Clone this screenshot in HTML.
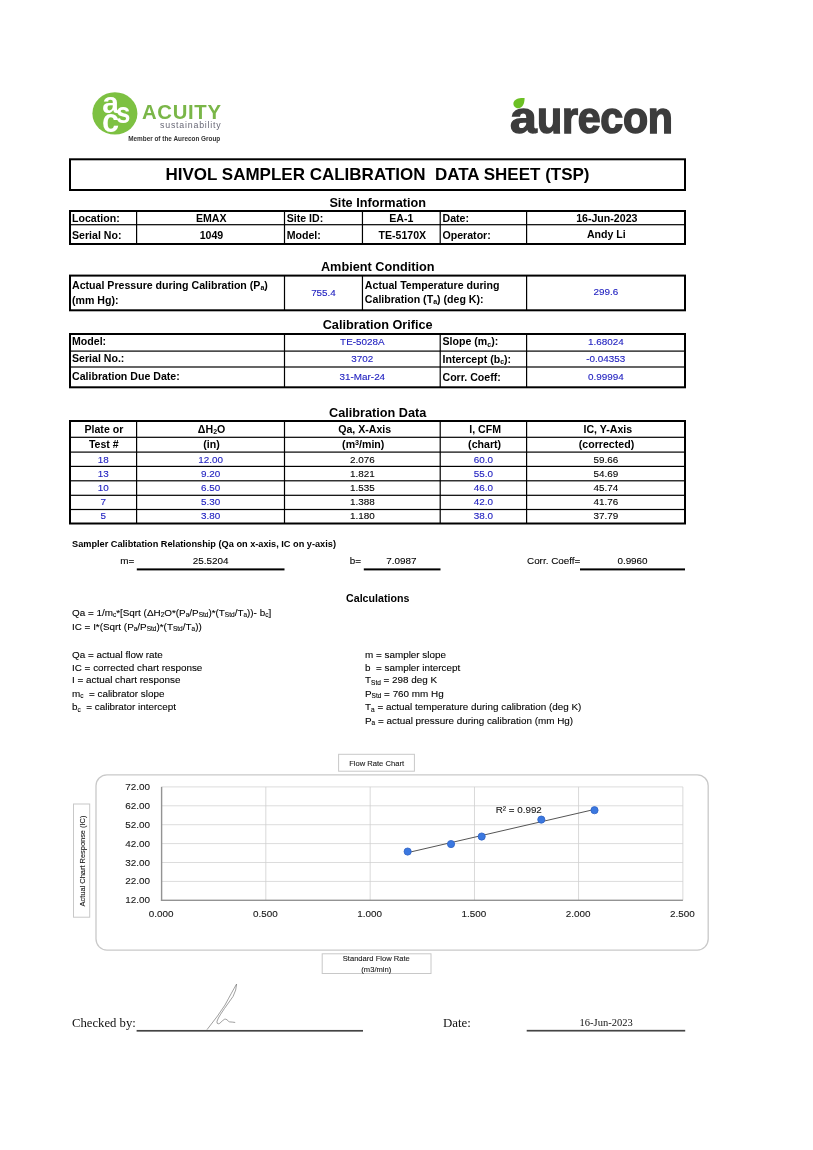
<!DOCTYPE html>
<html lang="en">
<head>
<meta charset="utf-8">
<title>HIVOL Sampler Calibration Data Sheet (TSP)</title>
<style>
html,body{margin:0;padding:0;background:#fff;}
body{width:813px;height:1150px;position:relative;overflow:hidden;font-family:"Liberation Sans",sans-serif;color:#000;}
.t{position:absolute;white-space:nowrap;line-height:1;}
.r{position:absolute;}
.b{font-weight:bold;}
.bl{color:#2222c0;-webkit-text-stroke:0.12px #2222c0;}
.cf{-webkit-text-stroke:0.1px #000;}
.se{font-family:"Liberation Serif",serif;}
sub{font-size:66%;vertical-align:baseline;position:relative;top:0.22em;line-height:0;}
sup{font-size:68%;vertical-align:baseline;position:relative;top:-0.48em;line-height:0;}
svg{position:absolute;overflow:visible;}
</style>
</head>
<body>
<svg width="813" height="1150" viewBox="0 0 813 1150" style="left:0;top:0">
<rect x="70.00" y="159.30" width="615.00" height="30.70" fill="none" stroke="#000" stroke-width="2"/>
<rect x="70.00" y="211.00" width="615.00" height="33.00" fill="none" stroke="#000" stroke-width="2"/>
<rect x="70.00" y="224.10" width="615.00" height="1.20" fill="#000"/>
<rect x="136.00" y="211.00" width="1.20" height="33.00" fill="#000"/>
<rect x="283.90" y="211.00" width="1.20" height="33.00" fill="#000"/>
<rect x="361.85" y="211.00" width="1.20" height="33.00" fill="#000"/>
<rect x="439.60" y="211.00" width="1.20" height="33.00" fill="#000"/>
<rect x="526.00" y="211.00" width="1.20" height="33.00" fill="#000"/>
<rect x="70.00" y="275.60" width="615.00" height="34.70" fill="none" stroke="#000" stroke-width="2"/>
<rect x="283.90" y="275.60" width="1.20" height="34.70" fill="#000"/>
<rect x="361.85" y="275.60" width="1.20" height="34.70" fill="#000"/>
<rect x="526.00" y="275.60" width="1.20" height="34.70" fill="#000"/>
<rect x="70.00" y="334.00" width="615.00" height="53.30" fill="none" stroke="#000" stroke-width="2"/>
<rect x="70.00" y="350.50" width="615.00" height="1.20" fill="#000"/>
<rect x="70.00" y="366.40" width="615.00" height="1.20" fill="#000"/>
<rect x="283.90" y="334.00" width="1.20" height="53.30" fill="#000"/>
<rect x="439.60" y="334.00" width="1.20" height="53.30" fill="#000"/>
<rect x="526.00" y="334.00" width="1.20" height="53.30" fill="#000"/>
<rect x="70.00" y="421.00" width="615.00" height="102.50" fill="none" stroke="#000" stroke-width="2"/>
<rect x="70.00" y="436.70" width="615.00" height="1.20" fill="#000"/>
<rect x="70.00" y="451.50" width="615.00" height="1.20" fill="#000"/>
<rect x="70.00" y="465.80" width="615.00" height="1.20" fill="#000"/>
<rect x="70.00" y="480.20" width="615.00" height="1.20" fill="#000"/>
<rect x="70.00" y="494.70" width="615.00" height="1.20" fill="#000"/>
<rect x="70.00" y="508.90" width="615.00" height="1.20" fill="#000"/>
<rect x="136.00" y="421.00" width="1.20" height="102.50" fill="#000"/>
<rect x="283.90" y="421.00" width="1.20" height="102.50" fill="#000"/>
<rect x="439.60" y="421.00" width="1.20" height="102.50" fill="#000"/>
<rect x="526.00" y="421.00" width="1.20" height="102.50" fill="#000"/>
<rect x="136.80" y="568.40" width="147.70" height="2.00" fill="#000"/>
<rect x="363.80" y="568.40" width="76.70" height="2.00" fill="#000"/>
<rect x="580.00" y="568.40" width="105.00" height="2.00" fill="#000"/>
<rect x="136.60" y="1029.95" width="226.40" height="1.70" fill="#444"/>
<rect x="526.70" y="1029.85" width="158.50" height="1.70" fill="#444"/>
<path d="M207.2 1029.4 L217.5 1016 L225 1005 Q232 992 236.6 984 Q236.5 990 233 996.5 L224.4 1008.6 Q220 1015 218.4 1018 Q216.3 1022 217.1 1023.2 Q218.2 1024.3 219.8 1023.3 Q222.5 1020.5 224.4 1019.3 Q225.8 1018.8 227 1019.8 Q228.5 1021.5 229.6 1021.9 Q232 1022 234.8 1022.4" fill="none" stroke="#777" stroke-width="0.7" stroke-linecap="round" stroke-linejoin="round"/>
<rect x="96" y="774.8" width="612.2" height="175.3" rx="11" ry="11" fill="#fff" stroke="#c9c9c9" stroke-width="1.3"/>
<rect x="161.60" y="880.90" width="521.30" height="1.00" fill="#dcdcdc"/>
<rect x="161.60" y="862.00" width="521.30" height="1.00" fill="#dcdcdc"/>
<rect x="161.60" y="843.10" width="521.30" height="1.00" fill="#dcdcdc"/>
<rect x="161.60" y="824.20" width="521.30" height="1.00" fill="#dcdcdc"/>
<rect x="161.60" y="805.30" width="521.30" height="1.00" fill="#dcdcdc"/>
<rect x="161.60" y="786.40" width="521.30" height="1.00" fill="#dcdcdc"/>
<rect x="265.46" y="786.90" width="0.80" height="113.40" fill="#d0d0d0"/>
<rect x="369.72" y="786.90" width="0.80" height="113.40" fill="#d0d0d0"/>
<rect x="473.98" y="786.90" width="0.80" height="113.40" fill="#d0d0d0"/>
<rect x="578.24" y="786.90" width="0.80" height="113.40" fill="#d0d0d0"/>
<rect x="682.50" y="786.90" width="0.80" height="113.40" fill="#d0d0d0"/>
<rect x="160.90" y="786.90" width="1.40" height="114.10" fill="#939393"/>
<rect x="160.90" y="899.60" width="522.00" height="1.40" fill="#939393"/>
<line x1="407.65" y1="852.65" x2="594.49" y2="809.43" stroke="#555" stroke-width="1"/>
<circle cx="407.65" cy="851.56" r="3.6" fill="#3b78e0" stroke="#2f62c4" stroke-width="0.8"/>
<circle cx="451.03" cy="844.05" r="3.6" fill="#3b78e0" stroke="#2f62c4" stroke-width="0.8"/>
<circle cx="481.68" cy="836.53" r="3.6" fill="#3b78e0" stroke="#2f62c4" stroke-width="0.8"/>
<circle cx="541.31" cy="819.62" r="3.6" fill="#3b78e0" stroke="#2f62c4" stroke-width="0.8"/>
<circle cx="594.49" cy="810.22" r="3.6" fill="#3b78e0" stroke="#2f62c4" stroke-width="0.8"/>
<rect x="338.6" y="754.3" width="75.8" height="16.9" fill="#fff" stroke="#c8c8c8" stroke-width="1"/>
<rect x="322.2" y="953.8" width="108.8" height="19.7" fill="#fff" stroke="#c8c8c8" stroke-width="1"/>
<rect x="73.5" y="804" width="16.2" height="113.2" fill="#fff" stroke="#c8c8c8" stroke-width="1"/>
<ellipse cx="114.9" cy="113.4" rx="22.5" ry="21.2" fill="#7dc142"/>
<path d="M524.6 98 C520 97.6 514.5 98.5 513.5 102.5 C512.8 106 515.5 108.6 518.8 108.2 C523 107.6 524.6 103 524.6 98 Z" fill="#6cc024"/>
</svg>
<div class="t b" style="top:166.41px;font-size:17px;left:27.50px;width:700px;text-align:center;white-space:pre;">HIVOL SAMPLER CALIBRATION  DATA SHEET (TSP)</div>
<div class="t b" style="top:196.55px;font-size:12.7px;left:27.70px;width:700px;text-align:center;">Site Information</div>
<div class="t b" style="top:213.03px;font-size:10.6px;left:72.00px;">Location:</div>
<div class="t b" style="top:229.53px;font-size:10.6px;left:72.00px;">Serial No:</div>
<div class="t b" style="top:213.03px;font-size:10.6px;left:-138.75px;width:700px;text-align:center;">EMAX</div>
<div class="t b" style="top:229.53px;font-size:10.6px;left:-138.55px;width:700px;text-align:center;">1049</div>
<div class="t b" style="top:213.03px;font-size:10.6px;left:286.70px;">Site ID:</div>
<div class="t b" style="top:229.53px;font-size:10.6px;left:286.70px;">Model:</div>
<div class="t b" style="top:213.03px;font-size:10.6px;left:51.32px;width:700px;text-align:center;">EA-1</div>
<div class="t b" style="top:229.53px;font-size:10.6px;left:52.32px;width:700px;text-align:center;">TE-5170X</div>
<div class="t b" style="top:213.03px;font-size:10.6px;left:442.50px;">Date:</div>
<div class="t b" style="top:229.53px;font-size:10.6px;left:442.50px;">Operator:</div>
<div class="t b" style="top:212.53px;font-size:10.6px;left:256.80px;width:700px;text-align:center;">16-Jun-2023</div>
<div class="t b" style="top:229.03px;font-size:10.6px;left:256.30px;width:700px;text-align:center;">Andy Li</div>
<div class="t b" style="top:261.25px;font-size:12.7px;left:27.70px;width:700px;text-align:center;">Ambient Condition</div>
<div class="t b" style="top:279.83px;font-size:10.6px;left:72.00px;">Actual Pressure during Calibration (P<sub>a</sub>)</div>
<div class="t b" style="top:294.53px;font-size:10.6px;left:72.00px;">(mm Hg):</div>
<div class="t bl" style="top:287.62px;font-size:9.9px;left:-26.52px;width:700px;text-align:center;">755.4</div>
<div class="t b" style="top:280.23px;font-size:10.6px;left:364.85px;">Actual Temperature during</div>
<div class="t b" style="top:293.83px;font-size:10.6px;left:364.85px;">Calibration (T<sub>a</sub>) (deg K):</div>
<div class="t bl" style="top:287.32px;font-size:9.9px;left:255.80px;width:700px;text-align:center;">299.6</div>
<div class="t b" style="top:318.75px;font-size:12.7px;left:27.70px;width:700px;text-align:center;">Calibration Orifice</div>
<div class="t b" style="top:336.43px;font-size:10.6px;left:72.00px;">Model:</div>
<div class="t b" style="top:352.83px;font-size:10.6px;left:72.00px;">Serial No.:</div>
<div class="t b" style="top:371.03px;font-size:10.6px;left:72.00px;">Calibration Due Date:</div>
<div class="t bl" style="top:337.12px;font-size:9.9px;left:12.35px;width:700px;text-align:center;">TE-5028A</div>
<div class="t bl" style="top:354.12px;font-size:9.9px;left:12.35px;width:700px;text-align:center;">3702</div>
<div class="t bl" style="top:371.82px;font-size:9.9px;left:12.35px;width:700px;text-align:center;">31-Mar-24</div>
<div class="t b" style="top:336.33px;font-size:10.6px;left:442.50px;">Slope (m<sub>c</sub>):</div>
<div class="t b" style="top:353.53px;font-size:10.6px;left:442.50px;">Intercept (b<sub>c</sub>):</div>
<div class="t b" style="top:371.53px;font-size:10.6px;left:442.50px;">Corr. Coeff:</div>
<div class="t bl" style="top:337.12px;font-size:9.9px;left:255.80px;width:700px;text-align:center;">1.68024</div>
<div class="t bl" style="top:354.12px;font-size:9.9px;left:255.80px;width:700px;text-align:center;">-0.04353</div>
<div class="t bl" style="top:371.82px;font-size:9.9px;left:255.80px;width:700px;text-align:center;">0.99994</div>
<div class="t b" style="top:407.25px;font-size:12.7px;left:27.70px;width:700px;text-align:center;">Calibration Data</div>
<div class="t b" style="top:423.73px;font-size:10.6px;left:-246.10px;width:700px;text-align:center;">Plate or</div>
<div class="t b" style="top:439.33px;font-size:10.6px;left:-246.20px;width:700px;text-align:center;">Test #</div>
<div class="t b" style="top:423.73px;font-size:10.6px;left:-138.45px;width:700px;text-align:center;">ΔH<sub>2</sub>O</div>
<div class="t b" style="top:439.33px;font-size:10.6px;left:-138.45px;width:700px;text-align:center;">(in)</div>
<div class="t b" style="top:423.73px;font-size:10.6px;left:14.65px;width:700px;text-align:center;">Qa, X-Axis</div>
<div class="t b" style="top:439.33px;font-size:10.6px;left:13.25px;width:700px;text-align:center;">(m<sup>3</sup>/min)</div>
<div class="t b" style="top:423.73px;font-size:10.6px;left:135.10px;width:700px;text-align:center;">I, CFM</div>
<div class="t b" style="top:439.33px;font-size:10.6px;left:134.60px;width:700px;text-align:center;">(chart)</div>
<div class="t b" style="top:423.73px;font-size:10.6px;left:257.80px;width:700px;text-align:center;">IC, Y-Axis</div>
<div class="t b" style="top:439.33px;font-size:10.6px;left:256.50px;width:700px;text-align:center;">(corrected)</div>
<div class="t bl" style="top:454.92px;font-size:9.9px;left:-246.70px;width:700px;text-align:center;">18</div>
<div class="t bl" style="top:454.92px;font-size:9.9px;left:-139.45px;width:700px;text-align:center;">12.00</div>
<div class="t cf" style="top:454.92px;font-size:9.9px;left:12.35px;width:700px;text-align:center;">2.076</div>
<div class="t bl" style="top:454.92px;font-size:9.9px;left:133.40px;width:700px;text-align:center;">60.0</div>
<div class="t cf" style="top:454.92px;font-size:9.9px;left:255.80px;width:700px;text-align:center;">59.66</div>
<div class="t bl" style="top:469.22px;font-size:9.9px;left:-246.70px;width:700px;text-align:center;">13</div>
<div class="t bl" style="top:469.22px;font-size:9.9px;left:-139.45px;width:700px;text-align:center;">9.20</div>
<div class="t cf" style="top:469.22px;font-size:9.9px;left:12.35px;width:700px;text-align:center;">1.821</div>
<div class="t bl" style="top:469.22px;font-size:9.9px;left:133.40px;width:700px;text-align:center;">55.0</div>
<div class="t cf" style="top:469.22px;font-size:9.9px;left:255.80px;width:700px;text-align:center;">54.69</div>
<div class="t bl" style="top:483.32px;font-size:9.9px;left:-246.70px;width:700px;text-align:center;">10</div>
<div class="t bl" style="top:483.32px;font-size:9.9px;left:-139.45px;width:700px;text-align:center;">6.50</div>
<div class="t cf" style="top:483.32px;font-size:9.9px;left:12.35px;width:700px;text-align:center;">1.535</div>
<div class="t bl" style="top:483.32px;font-size:9.9px;left:133.40px;width:700px;text-align:center;">46.0</div>
<div class="t cf" style="top:483.32px;font-size:9.9px;left:255.80px;width:700px;text-align:center;">45.74</div>
<div class="t bl" style="top:497.22px;font-size:9.9px;left:-246.70px;width:700px;text-align:center;">7</div>
<div class="t bl" style="top:497.22px;font-size:9.9px;left:-139.45px;width:700px;text-align:center;">5.30</div>
<div class="t cf" style="top:497.22px;font-size:9.9px;left:12.35px;width:700px;text-align:center;">1.388</div>
<div class="t bl" style="top:497.22px;font-size:9.9px;left:133.40px;width:700px;text-align:center;">42.0</div>
<div class="t cf" style="top:497.22px;font-size:9.9px;left:255.80px;width:700px;text-align:center;">41.76</div>
<div class="t bl" style="top:510.82px;font-size:9.9px;left:-246.70px;width:700px;text-align:center;">5</div>
<div class="t bl" style="top:510.82px;font-size:9.9px;left:-139.45px;width:700px;text-align:center;">3.80</div>
<div class="t cf" style="top:510.82px;font-size:9.9px;left:12.35px;width:700px;text-align:center;">1.180</div>
<div class="t bl" style="top:510.82px;font-size:9.9px;left:133.40px;width:700px;text-align:center;">38.0</div>
<div class="t cf" style="top:510.82px;font-size:9.9px;left:255.80px;width:700px;text-align:center;">37.79</div>
<div class="t b" style="top:540.21px;font-size:9.2px;left:72.00px;">Sampler Calibtation Relationship (Qa on x-axis, IC on y-axis)</div>
<div class="t cf" style="top:556.42px;font-size:9.9px;left:-265.70px;width:400px;text-align:right;">m=</div>
<div class="t cf" style="top:556.42px;font-size:9.9px;left:-139.35px;width:700px;text-align:center;">25.5204</div>
<div class="t cf" style="top:556.42px;font-size:9.9px;left:-39.00px;width:400px;text-align:right;">b=</div>
<div class="t cf" style="top:556.42px;font-size:9.9px;left:51.32px;width:700px;text-align:center;">7.0987</div>
<div class="t cf" style="top:556.42px;font-size:9.9px;left:527.00px;">Corr. Coeff=</div>
<div class="t cf" style="top:556.42px;font-size:9.9px;left:282.50px;width:700px;text-align:center;">0.9960</div>
<div class="t b" style="top:592.98px;font-size:10.65px;left:27.70px;width:700px;text-align:center;">Calculations</div>
<div class="t cf" style="top:607.72px;font-size:9.9px;left:72.00px;">Qa = 1/m<sub>c</sub>*[Sqrt (ΔH<sub>2</sub>O*(P<sub>a</sub>/P<sub>Std</sub>)*(T<sub>Std</sub>/T<sub>a</sub>))- b<sub>c</sub>]</div>
<div class="t cf" style="top:621.72px;font-size:9.9px;left:72.00px;">IC = I*(Sqrt (P<sub>a</sub>/P<sub>Std</sub>)*(T<sub>Std</sub>/T<sub>a</sub>))</div>
<div class="t cf" style="top:649.52px;font-size:9.9px;left:72.00px;white-space:pre;">Qa = actual flow rate</div>
<div class="t cf" style="top:662.52px;font-size:9.9px;left:72.00px;white-space:pre;">IC = corrected chart response</div>
<div class="t cf" style="top:675.42px;font-size:9.9px;left:72.00px;white-space:pre;">I = actual chart response</div>
<div class="t cf" style="top:688.62px;font-size:9.9px;left:72.00px;white-space:pre;">m<sub>c</sub>  = calibrator slope</div>
<div class="t cf" style="top:702.42px;font-size:9.9px;left:72.00px;white-space:pre;">b<sub>c</sub>  = calibrator intercept</div>
<div class="t cf" style="top:649.52px;font-size:9.9px;left:365.00px;white-space:pre;">m = sampler slope</div>
<div class="t cf" style="top:662.52px;font-size:9.9px;left:365.00px;white-space:pre;">b  = sampler intercept</div>
<div class="t cf" style="top:675.42px;font-size:9.9px;left:365.00px;white-space:pre;">T<sub>Std</sub> = 298 deg K</div>
<div class="t cf" style="top:688.62px;font-size:9.9px;left:365.00px;white-space:pre;">P<sub>Std</sub> = 760 mm Hg</div>
<div class="t cf" style="top:702.42px;font-size:9.9px;left:365.00px;white-space:pre;">T<sub>a</sub> = actual temperature during calibration (deg K)</div>
<div class="t cf" style="top:715.52px;font-size:9.9px;left:365.00px;white-space:pre;">P<sub>a</sub> = actual pressure during calibration (mm Hg)</div>
<div class="t se" style="top:1017.26px;font-size:12.7px;left:72.00px;color:#111;">Checked by:</div>
<div class="t se" style="top:1016.60px;font-size:12.9px;left:443.00px;color:#111;">Date:</div>
<div class="t se" style="top:1017.51px;font-size:10.5px;left:256.10px;width:700px;text-align:center;color:#111;">16-Jun-2023</div>
<div class="t cf" style="top:895.32px;font-size:9.9px;left:-250.00px;width:400px;text-align:right;color:#1a1a1a;">12.00</div>
<div class="t cf" style="top:876.42px;font-size:9.9px;left:-250.00px;width:400px;text-align:right;color:#1a1a1a;">22.00</div>
<div class="t cf" style="top:857.52px;font-size:9.9px;left:-250.00px;width:400px;text-align:right;color:#1a1a1a;">32.00</div>
<div class="t cf" style="top:838.62px;font-size:9.9px;left:-250.00px;width:400px;text-align:right;color:#1a1a1a;">42.00</div>
<div class="t cf" style="top:819.72px;font-size:9.9px;left:-250.00px;width:400px;text-align:right;color:#1a1a1a;">52.00</div>
<div class="t cf" style="top:800.82px;font-size:9.9px;left:-250.00px;width:400px;text-align:right;color:#1a1a1a;">62.00</div>
<div class="t cf" style="top:781.92px;font-size:9.9px;left:-250.00px;width:400px;text-align:right;color:#1a1a1a;">72.00</div>
<div class="t cf" style="top:909.12px;font-size:9.9px;left:-188.90px;width:700px;text-align:center;color:#1a1a1a;">0.000</div>
<div class="t cf" style="top:909.12px;font-size:9.9px;left:-84.64px;width:700px;text-align:center;color:#1a1a1a;">0.500</div>
<div class="t cf" style="top:909.12px;font-size:9.9px;left:19.62px;width:700px;text-align:center;color:#1a1a1a;">1.000</div>
<div class="t cf" style="top:909.12px;font-size:9.9px;left:123.88px;width:700px;text-align:center;color:#1a1a1a;">1.500</div>
<div class="t cf" style="top:909.12px;font-size:9.9px;left:228.14px;width:700px;text-align:center;color:#1a1a1a;">2.000</div>
<div class="t cf" style="top:909.12px;font-size:9.9px;left:332.40px;width:700px;text-align:center;color:#1a1a1a;">2.500</div>
<div class="t cf" style="top:804.60px;font-size:9.8px;left:141.80px;width:400px;text-align:right;color:#1a1a1a;">R² = 0.992</div>
<div class="t cf" style="top:759.87px;font-size:7.6px;left:26.60px;width:700px;text-align:center;color:#262626;">Flow Rate Chart</div>
<div class="t cf" style="top:955.47px;font-size:7.6px;left:26.30px;width:700px;text-align:center;color:#262626;">Standard Flow Rate</div>
<div class="t cf" style="top:965.77px;font-size:7.6px;left:26.30px;width:700px;text-align:center;color:#262626;">(m3/min)</div>
<div class="t cf" style="left:82.9px;top:860.8px;font-size:7.45px;color:#262626;transform:translate(-50%,-50%) rotate(-90deg);">Actual Chart Response (IC)</div>
<div class="t b" style="top:88.20px;font-size:30px;left:102.20px;color:#fff;">a</div>
<div class="t b" style="top:97.61px;font-size:30px;left:116.30px;transform:scaleX(0.86);transform-origin:0 50%;color:#fff;">s</div>
<div class="t b" style="top:103.77px;font-size:33px;left:102.20px;transform:scaleX(0.93);transform-origin:0 50%;color:#fff;">c</div>
<div class="t b" style="top:101.82px;font-size:20.3px;left:142.00px;color:#7ab648;letter-spacing:0.7px;">ACUITY</div>
<div class="t" style="top:120.75px;font-size:8.8px;left:160.00px;color:#686876;letter-spacing:0.8px;">sustainability</div>
<div class="t b" style="top:135.58px;font-size:6.4px;left:128.20px;color:#333;">Member of the Aurecon Group</div>
<div class="t b" style="top:95.01px;font-size:45px;left:510.30px;color:#3c3c3c;"><span style="display:inline-block;transform:scaleX(1.07);transform-origin:0 0;-webkit-text-stroke:1.3px #3c3c3c;">a</span><span style="display:inline-block;margin-left:1.9px;letter-spacing:-0.3px;-webkit-text-stroke:1.5px #3c3c3c;transform:scaleX(0.915);transform-origin:0 0;">urecon</span></div>
</body>
</html>
